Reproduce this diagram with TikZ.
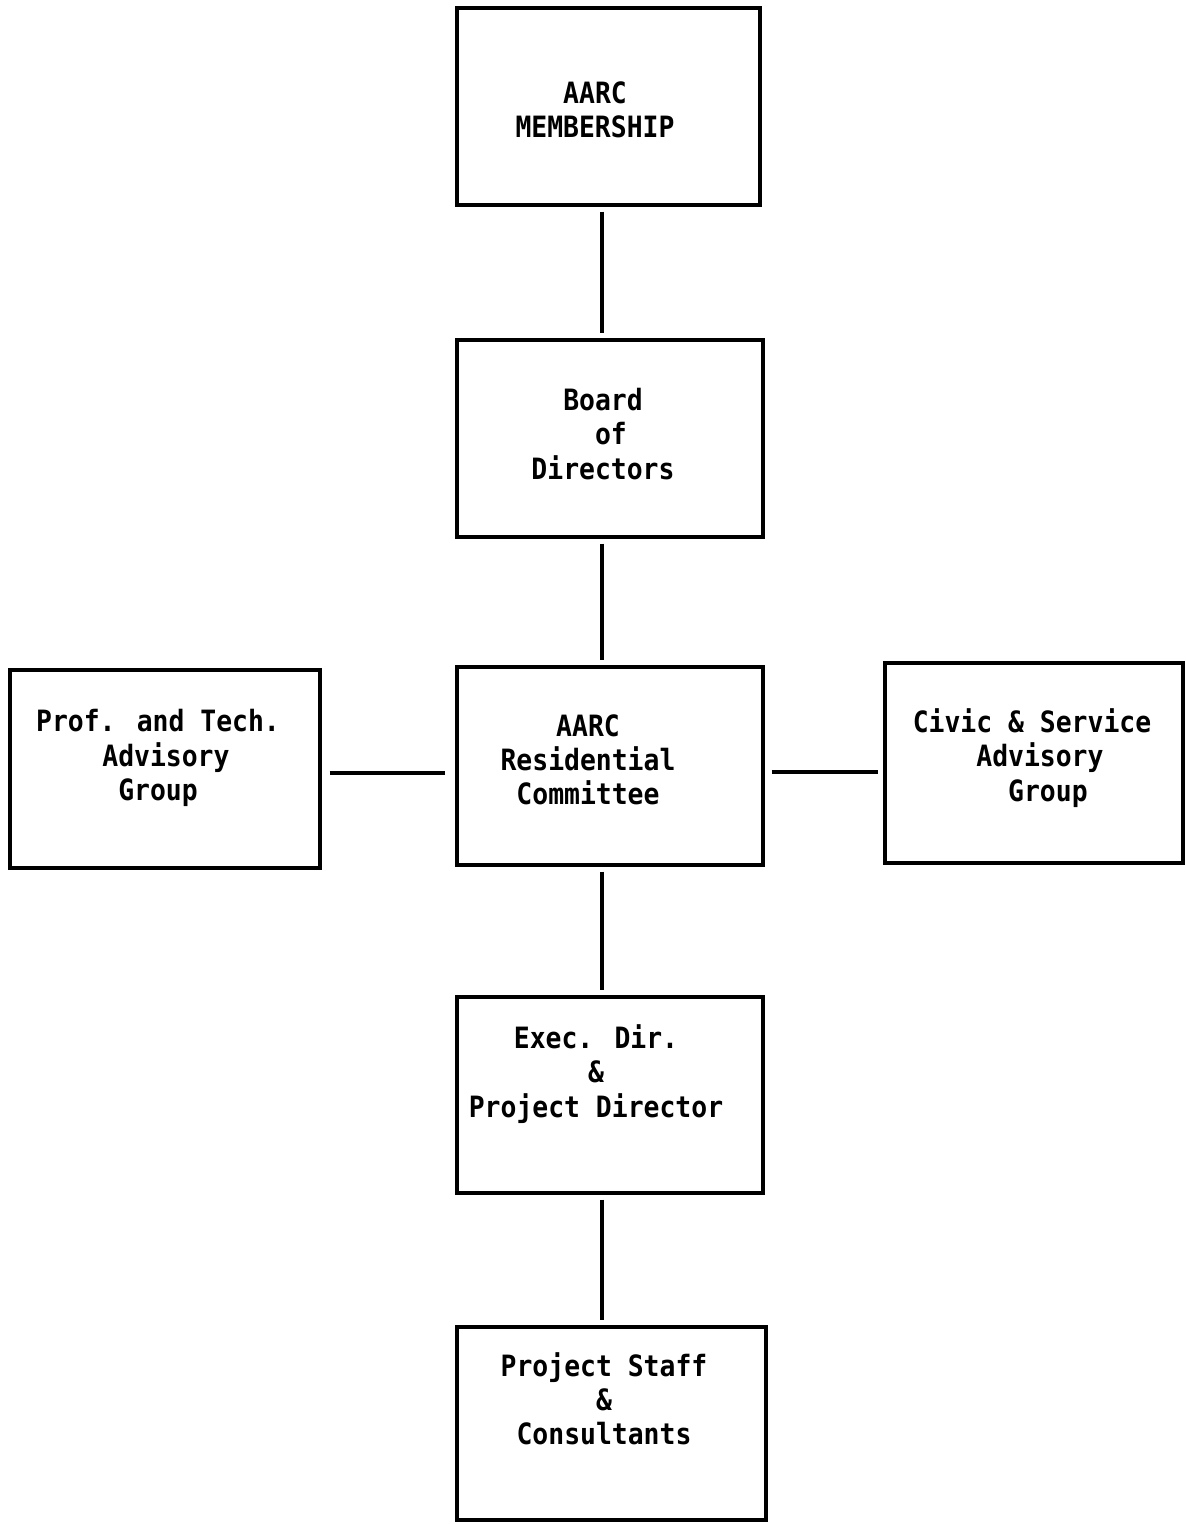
\documentclass[tikz,border=0pt]{standalone}
\usepackage{fontspec}
\newfontfamily\typefont[FakeStretch=0.9]{DejaVu Sans Mono}
\usepackage{tikz}
\usetikzlibrary{
    positioning,
    calc,
}

\begin{document}
\begin{tikzpicture}[x=0.02cm, y=-0.02cm,
        orgbox/.style={draw, line width=1.8pt, inner sep=0pt},
        orgtext/.style={align=center, font=\typefont\bfseries\fontsize{16.7}{19.5}\selectfont},
        link/.style={line width=1.8pt, shorten <=0.1cm, shorten >=0.1cm}]
        \useasboundingbox (0,0) rectangle (1186,1524);
        % boxes
        \node[orgbox, minimum width=6.06cm, minimum height=3.94cm] (mem) at (608.5,106.5) {};
        \node[orgbox, minimum width=6.12cm, minimum height=3.94cm] (board) at (610,438.5) {};
        \node[orgbox, minimum width=6.12cm, minimum height=3.96cm] (res) at (610,766) {};
        \node[orgbox, minimum width=6.20cm, minimum height=3.96cm] (prof) at (165,769) {};
        \node[orgbox, minimum width=5.96cm, minimum height=4.00cm] (civic) at (1034,763) {};
        \node[orgbox, minimum width=6.12cm, minimum height=3.92cm] (exec) at (610,1095) {};
        \node[orgbox, minimum width=6.18cm, minimum height=3.86cm] (staff) at (611.5,1423.5) {};
        % texts
        \node[orgtext] (memtext) at (595,110) {AARC\\MEMBERSHIP};
        \node[orgtext] (boardtext) at (603,434) {Board\\\hphantom{x}of\\Directors};
        \node[orgtext] (restext) at (588,760) {AARC\\Residential\\Committee};
        \node[orgtext] (proftext) at (158,758) {Prof. and Tech.\\\hphantom{x}Advisory\\Group};
        \node[orgtext] (civictext) at (1032,758) {Civic \& Service\\\hphantom{x}Advisory\\\hphantom{xx}Group};
        \node[orgtext] (exectext) at (596,1074) {Exec. Dir.\\\&\\Project Director};
        \node[orgtext] (stafftext) at (604,1399) {Project Staff\\\&\\Consultants};
        % connectors
        \draw[link] ([xshift=-0.16cm]board.north |- mem.south) -- ([xshift=-0.16cm]board.north);
        \draw[link] ([xshift=-0.16cm]board.south) -- ([xshift=-0.16cm]res.north);
        \draw[link] ([xshift=-0.16cm]res.south) -- ([xshift=-0.16cm]exec.north);
        \draw[link] ([xshift=-0.16cm]exec.south) -- ([xshift=-0.16cm]exec.south |- staff.north);
        \draw[link, shorten <=0.16cm, shorten >=0.2cm] ([yshift=-0.08cm]prof.east) -- ([yshift=-0.08cm]prof.east -| res.west);
        \draw[link, shorten <=0.14cm, shorten >=0.1cm] ([yshift=-0.12cm]res.east) -- ([yshift=-0.12cm]res.east -| civic.west);
    \end{tikzpicture}
\end{document}
